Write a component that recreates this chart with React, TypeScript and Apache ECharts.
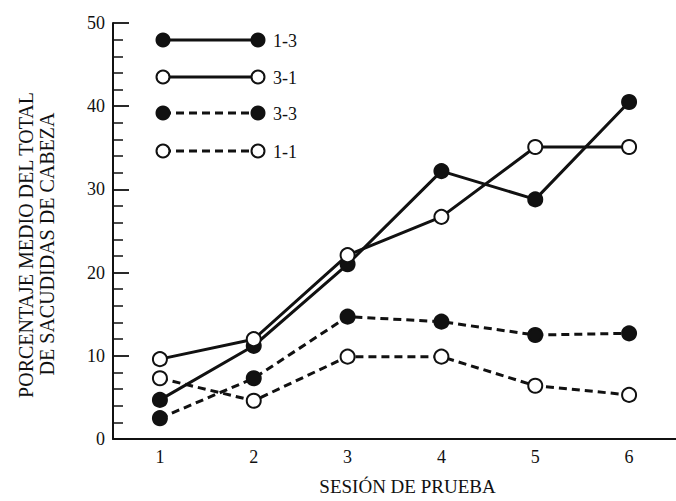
import React, { useEffect, useRef } from "react";
import * as echarts from "echarts";

const sessions = ["1", "2", "3", "4", "5", "6"];
const seriesNames = ["1-3", "3-1", "3-3", "1-1"];
const s13 = [4.7, 11.2, 21.0, 32.2, 28.8, 40.5];
const s31 = [9.6, 12.0, 22.1, 26.7, 35.1, 35.1];
const s33 = [2.5, 7.3, 14.7, 14.1, 12.5, 12.7];
const s11 = [7.3, 4.6, 9.9, 9.9, 6.4, 5.3];
const yMin = 0;
const yMax = 50;
const yStep = 10;
const xTitle = "SESIÓN DE PRUEBA";
const yTitle1 = "PORCENTAJE MEDIO DEL TOTAL";
const yTitle2 = "DE SACUDIDAS DE CABEZA";

const FONT = '"Liberation Serif", "DejaVu Serif", serif';
const INK = "#111";

const styles = [
  { filled: true, dashed: false },
  { filled: false, dashed: false },
  { filled: true, dashed: true },
  { filled: false, dashed: true },
];
const values = [s13, s31, s33, s11];

export default function App() {
  const ref = useRef<HTMLDivElement>(null);
  useEffect(() => {
    if (!ref.current) return;
    const chart = echarts.init(ref.current, undefined, { renderer: "svg" });

    const series = seriesNames.map((name, i) => ({
      name,
      type: "line",
      data: values[i],
      symbol: "circle",
      symbolSize: 14,
      lineStyle: {
        color: INK,
        width: 3,
        type: styles[i].dashed ? [8, 5] : "solid",
      },
      itemStyle: {
        color: styles[i].filled ? INK : "#fff",
        borderColor: INK,
        borderWidth: 2,
      },
      z: 3,
    }));

    const legendGraphics: any[] = [];
    const lx1 = 163;
    const lx2 = 258;
    const rowsY = [40, 77, 113, 151];
    seriesNames.forEach((name, i) => {
      const y = rowsY[i];
      legendGraphics.push({
        type: "line",
        shape: { x1: lx1, y1: y, x2: lx2, y2: y },
        style: {
          stroke: INK,
          lineWidth: 3,
          lineDash: styles[i].dashed ? [8, 5] : null,
        },
        z: 10,
      });
      [lx1, lx2].forEach((cx) =>
        legendGraphics.push({
          type: "circle",
          shape: { cx, cy: y, r: 6.5 },
          style: {
            fill: styles[i].filled ? INK : "#fff",
            stroke: INK,
            lineWidth: 2,
          },
          z: 11,
        })
      );
      legendGraphics.push({
        type: "text",
        x: 273,
        y: y + 1,
        style: {
          text: name,
          fill: INK,
          font: `18px ${FONT}`,
          verticalAlign: "middle",
          align: "left",
        },
        z: 11,
      });
    });

    legendGraphics.push({
      type: "text",
      x: 26,
      y: 245,
      rotation: Math.PI / 2,
      style: {
        text: yTitle1,
        fill: INK,
        font: `20px ${FONT}`,
        align: "center",
        verticalAlign: "middle",
      },
    });
    legendGraphics.push({
      type: "text",
      x: 47,
      y: 244,
      rotation: Math.PI / 2,
      style: {
        text: yTitle2,
        fill: INK,
        font: `20px ${FONT}`,
        align: "center",
        verticalAlign: "middle",
      },
    });

    chart.setOption({
      animation: false,
      backgroundColor: "#fff",
      grid: { left: 113, right: -5, top: 23, bottom: 57, containLabel: false },
      xAxis: {
        type: "category",
        data: sessions,
        boundaryGap: true,
        name: xTitle,
        nameLocation: "middle",
        nameGap: 38,
        nameTextStyle: { fontFamily: FONT, fontSize: 19, color: INK, padding: [0, 0, 0, 26] },
        axisLine: { lineStyle: { color: INK, width: 1.8 } },
        axisTick: { inside: true, length: 10, alignWithLabel: true, lineStyle: { color: INK, width: 1.6 } },
        axisLabel: { fontFamily: FONT, fontSize: 18, color: INK, margin: 9 },
        splitLine: { show: false },
      },
      yAxis: {
        type: "value",
        min: yMin,
        max: yMax,
        interval: yStep,
        axisLine: { show: true, lineStyle: { color: INK, width: 2 } },
        axisTick: { show: true, inside: true, length: 16, lineStyle: { color: INK, width: 1.8 } },
        minorTick: { show: true, splitNumber: 5, length: 10, lineStyle: { color: INK, width: 1.5 } },
        axisLabel: { fontFamily: FONT, fontSize: 18, color: INK, margin: 8 },
        splitLine: { show: false },
        minorSplitLine: { show: false },
      },
      series,
      graphic: legendGraphics,
    });

    return () => chart.dispose();
  }, []);

  return (
    <div
      ref={ref}
      style={{ position: "fixed", left: 0, top: 0, width: 676, height: 501, background: "#fff" }}
    />
  );
}
